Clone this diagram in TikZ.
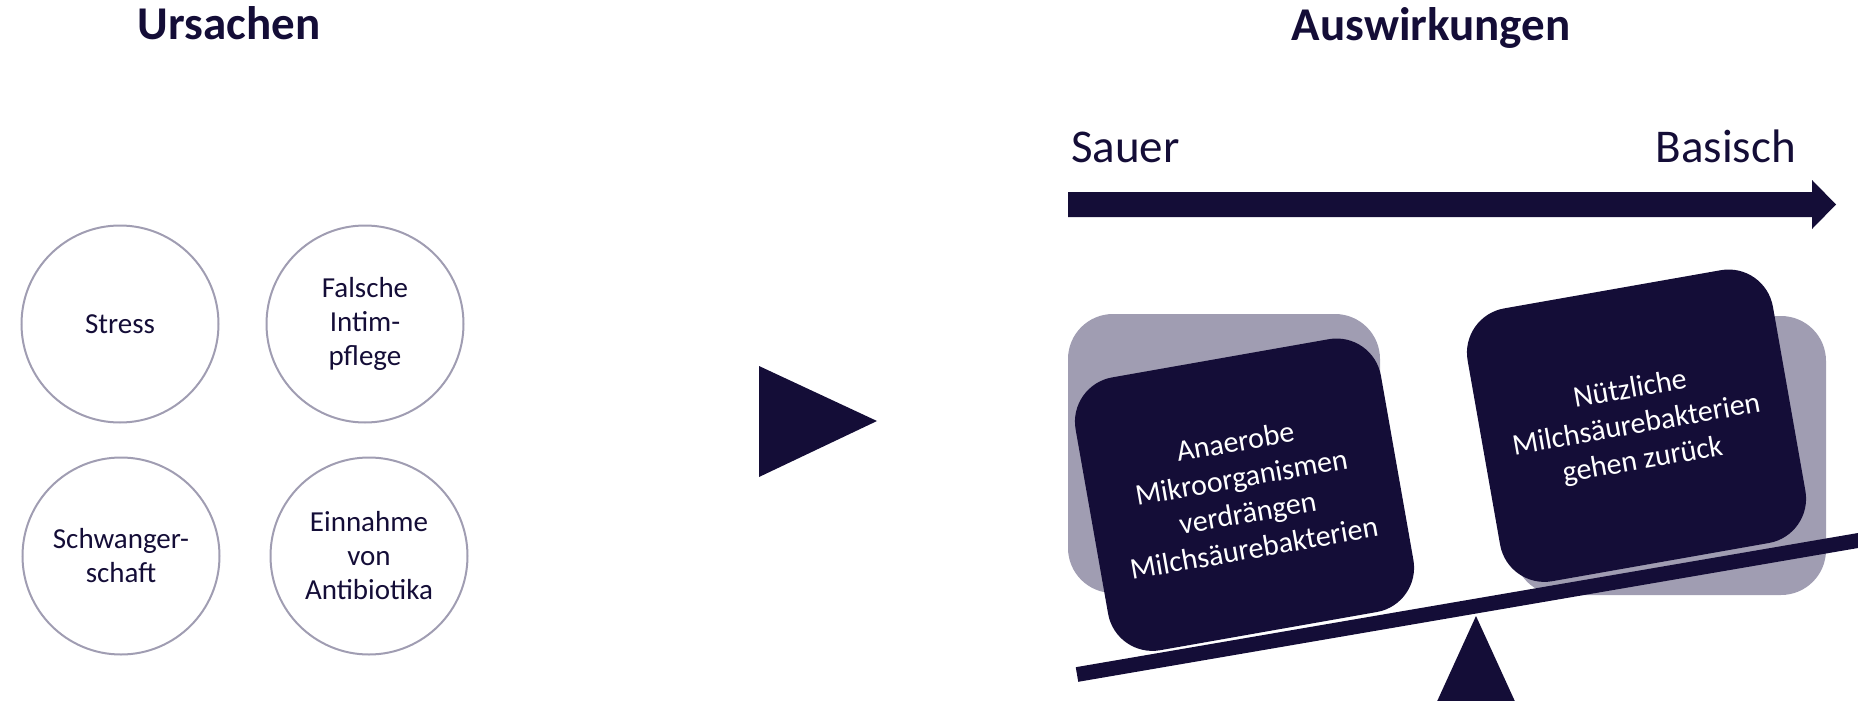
\documentclass[tikz,border=0pt]{standalone}
\usepackage{fontspec}
\setmainfont{Carlito}
\definecolor{navy}{RGB}{20,13,55}
\definecolor{lilac}{RGB}{160,157,178}
\begin{document}
\begin{tikzpicture}[x=1pt,y=-1pt,
  title/.style={font=\fontsize{47}{56}\selectfont\bfseries, text=navy, inner sep=0pt, anchor=base},
  axislabel/.style={font=\fontsize{47}{56}\selectfont, text=navy, inner sep=0pt},
  cause/.style={circle, draw=lilac, line width=2pt, minimum size=197pt, inner sep=0pt, align=center, text=navy, font=\fontsize{29}{34}\selectfont},
  shade/.style={fill=lilac, rounded corners=45pt, minimum width=312pt, minimum height=279pt, inner sep=0pt},
  effect/.style={fill=navy, rounded corners=45pt, minimum width=310pt, minimum height=277pt, inner sep=0pt, rotate=10, align=center, text=white, font=\fontsize{30}{36}\selectfont},
]
\useasboundingbox (0,0) rectangle (1858,701);
\clip (0,0) rectangle (1858,701);

% titles
\node[title] (t1) at (229,40) {Ursachen};
\node[title] (t2) at (1431,41) {Auswirkungen};

% causes
\node[cause] (c1) at (120,324) {Stress};
\node[cause] (c2) at (365,324) {Falsche\\Intim-\\pflege};
\node[cause] (c3) at (121,556) {Schwanger-\\schaft};
\node[cause] (c4) at (369,556) {Einnahme\\von\\Antibiotika};

% play triangle
\fill[navy] (759,366) -- (877,421) -- (759,477) -- cycle;

% axis
\node[axislabel, anchor=base west] (sauer) at (1071,162) {Sauer};
\node[axislabel, anchor=base east] (basisch) at (1796,162) {Basisch};
\fill[navy] (1068,192) -- (1812,192) -- (1812,180) -- (1836,204.5) -- (1812,229) -- (1812,217) -- (1068,217) -- cycle;

% shadows
\node[shade] (s1) at (1224,453.5) {};
\node[shade] (s2) at (1670,455.5) {};

% boxes
\node[effect] (e1) at (1244.5,494.7) {Anaerobe\\Mikroorganismen\\verdrängen\\Milchsäurebakterien};
\node[effect] (e2) at (1636.5,425.7) {Nützliche\\Milchsäurebakterien\\gehen zurück};

% fulcrum and beam
\coordinate (apex) at (1476,616);
\fill[navy] (apex) -- (1424,730) -- (1528,730) -- cycle;
\coordinate (bl) at (1077,674.5);
\coordinate (br) at (1900,533.3);
\draw[navy, line width=14.8pt] (bl) -- (br);
\end{tikzpicture}
\end{document}
